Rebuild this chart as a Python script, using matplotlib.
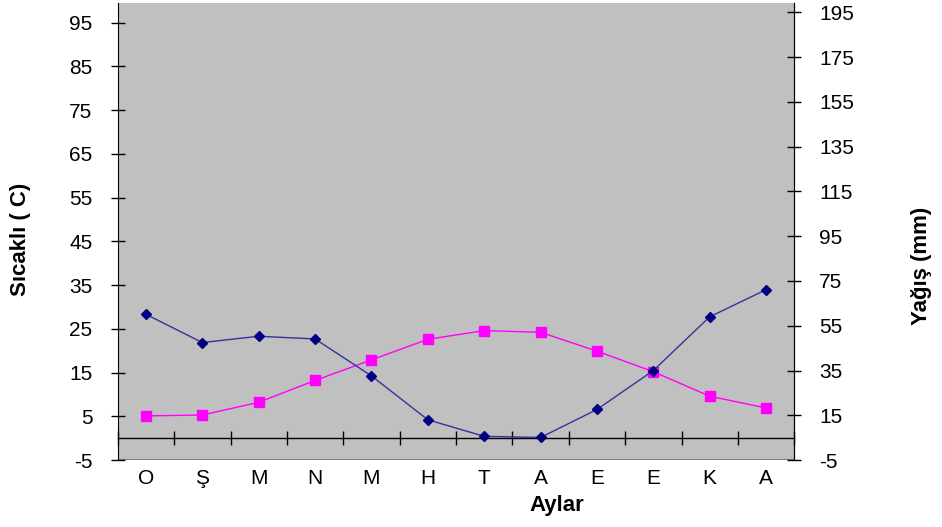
import matplotlib
matplotlib.use("Agg")
import matplotlib.pyplot as plt
import numpy as np

months = ["O", "Ş", "M", "N", "M", "H", "T", "A", "E", "E", "K", "A"]
temperature = [5.1, 5.3, 8.2, 13.2, 17.9, 22.6, 24.6, 24.2, 19.9, 15.2, 9.6, 6.9]
precipitation = [60.1, 47.5, 50.3, 49.1, 32.6, 13.0, 5.6, 5.1, 17.6, 35.0, 59.0, 71.1]
left_ticks = list(range(-5, 100, 10))
right_ticks = list(range(-5, 200, 20))

plt.rcParams['font.family'] = ['Liberation Sans', 'DejaVu Sans']
plt.rcParams['axes.unicode_minus'] = False

fig = plt.figure(figsize=(9.42, 5.27), dpi=100)
ax = fig.add_axes([0.125, 0.127, 0.7182, 0.8667])
ax.set_facecolor('#C0C0C0')
x = np.arange(len(months))

ax.set_xlim(-0.5, len(months) - 0.5)
ax.set_ylim(-5, 99.4)
ax.set_yticks(left_ticks)
ax.tick_params(axis='y', direction='inout', length=10.5, width=1, labelsize=15, pad=13)

# category axis crossing at zero
ax.spines['bottom'].set_position(('data', 0))
ax.spines['bottom'].set_linewidth(1)
ax.spines['top'].set_visible(False)
ax.set_xticks(x)
ax.set_xticklabels(months)
ax.set_xticks(np.arange(len(months) + 1) - 0.5, minor=True)
ax.tick_params(axis='x', which='major', length=0, labelsize=15, pad=22)
ax.tick_params(axis='x', which='minor', direction='inout', length=10, width=1)
ax.axhline(-5, color='#808080', lw=1.5, zorder=1)

ax2 = ax.twinx()
ax2.set_ylim(-5, 199)
ax2.set_yticks(right_ticks)
ax2.tick_params(axis='y', direction='inout', length=10.5, width=1, labelsize=15, pad=12.5)
ax2.spines['top'].set_visible(False)
ax2.spines['bottom'].set_visible(False)
ax2.spines['left'].set_visible(False)

ax.plot(x, temperature, color='#FF00FF', lw=1, marker='s', markersize=7,
        markerfacecolor='#FF00FF', markeredgecolor='#FF00FF', zorder=3)
ax2.plot(x, precipitation, color='#333399', lw=1, marker='D', markersize=5,
         markerfacecolor='#000080', markeredgecolor='#000080', zorder=3)

fig.text(21/942, 1 - 239/527, "Sıcaklı ( C)", rotation=90, ha='center', va='center',
         fontsize=16, fontweight='bold')
fig.text(922/942, 1 - 266/527, "Yağış (mm)", rotation=90, ha='center', va='center',
         fontsize=16, fontweight='bold')
fig.text(557/942, 1 - 505/527, "Aylar", ha='center', va='center',
         fontsize=16, fontweight='bold')

fig.savefig("out.png", dpi=100)
